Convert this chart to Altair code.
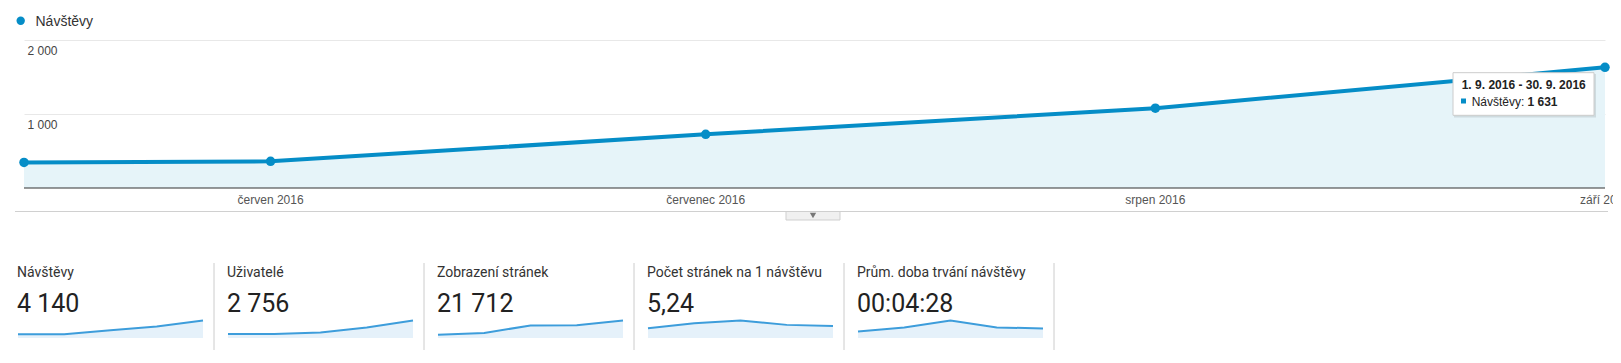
import altair as alt
import pandas as pd

# ---------------- data ----------------
months = ["2016-05-15", "2016-06-01", "2016-07-01", "2016-08-01", "2016-09-01"]
month_labels = ["", "červen 2016", "červenec 2016", "srpen 2016", "září 2016"]
visits = [345, 360, 725, 1079, 1631]

metric_names = ["Návštěvy", "Uživatelé", "Zobrazení stránek",
                "Počet stránek na 1 návštěvu", "Prům. doba trvání návštěvy"]
metric_totals = ["4 140", "2 756", "21 712", "5,24", "00:04:28"]

spark_visits = [345, 360, 725, 1079, 1631]
spark_users = [260, 262, 368, 694, 1150]
spark_pageviews = [1400, 2100, 5330, 5460, 7422]
spark_pages_per_visit = [4.0, 6.1, 7.2, 5.4, 4.9]
spark_duration_s = [160, 256, 424, 256, 232]
spark_series = [spark_visits, spark_users, spark_pageviews,
                spark_pages_per_visit, spark_duration_s]

tooltip_title = ["1. 9. 2016 - 30. 9. 2016"]
tooltip_series = ["Návštěvy:"]
tooltip_value = ["1 631"]

# ---------------- styling ----------------
W, H = 1605, 343
BLUE = "#058dc7"
FILL = "#e6f4f9"
SPARK = "#3d9ddb"
SPARK_FILL = "#e5f1fa"

main_df = pd.DataFrame({"date": months, "label": month_labels, "visits": visits})
legend_df = pd.DataFrame({"name": [metric_names[0]]})
panel_df = pd.DataFrame({"idx": list(range(len(metric_names))),
                         "name": metric_names, "total": metric_totals})
tip_df = pd.DataFrame({"title": tooltip_title, "series": tooltip_series,
                       "value": tooltip_value})

x_range = [16, 1597]
x_main = alt.X("date:T", scale=alt.Scale(range=x_range), axis=None)
y_scale = alt.Scale(domain=[0, 2000], range=[180, 32])
y_main = alt.Y("visits:Q", scale=y_scale, axis=None)

area = alt.Chart(main_df).mark_area(color=FILL, opacity=1).encode(
    x=x_main,
    y=alt.Y("visits:Q", scale=y_scale, axis=alt.Axis(
        values=[1000, 2000], grid=True, gridColor="#e8e8e8", domain=False,
        ticks=False, tickSize=0, labelAlign="left", labelPadding=-19,
        labelBaseline="alphabetic", labelOffset=14, labelFont="Arial",
        labelFontSize=12, labelColor="#444", title=None,
        labelExpr="replace(format(datum.value, ','), ',', ' ')")),
)

baseline = alt.Chart(main_df).mark_rule(color="#333", strokeWidth=1).encode(
    x=alt.X("min(date):T", scale=alt.Scale(range=x_range), axis=None),
    x2="max(date):T",
    y=alt.Y(datum=0, scale=y_scale, axis=None),
)

line = alt.Chart(main_df).mark_line(color=BLUE, strokeWidth=4).encode(x=x_main, y=y_main)
pts = alt.Chart(main_df).mark_circle(color=BLUE, size=90, opacity=1).encode(x=x_main, y=y_main)

x_labels = alt.Chart(main_df).mark_text(
    font="Arial", fontSize=12, color="#555", align="center", baseline="alphabetic", clip=True
).encode(x=x_main, y=alt.value(196), text="label:N")

# legend
leg_dot = alt.Chart(legend_df).mark_circle(color=BLUE, size=70, opacity=1).encode(
    x=alt.value(12.7), y=alt.value(12.7))
leg_txt = alt.Chart(legend_df).mark_text(
    font="Arial", fontSize=14, color="#333", align="left", baseline="alphabetic"
).encode(x=alt.value(27.5), y=alt.value(18.3), text="name:N")

# separator + tab
sep = alt.Chart(legend_df).mark_rule(color="#d0d0d0", strokeWidth=1).encode(
    x=alt.value(7), x2=alt.value(1600), y=alt.value(203.5))
tab = alt.Chart(legend_df).mark_rect(fill="#f0f0f0", stroke="#cfcfcf", strokeWidth=1).encode(
    x=alt.value(778), x2=alt.value(832), y=alt.value(203.5), y2=alt.value(212))
tab_tri = alt.Chart(legend_df).mark_point(shape="triangle-down", filled=True, color="#777",
                                          size=40, opacity=1).encode(
    x=alt.value(805), y=alt.value(207.5))

# tooltip
tip_shadow = alt.Chart(tip_df).mark_rect(fill="#000", opacity=0.10).encode(
    x=alt.value(1446), x2=alt.value(1588), y=alt.value(66), y2=alt.value(109.5))
tip_box = alt.Chart(tip_df).mark_rect(fill="white", stroke="#cccccc", strokeWidth=1).encode(
    x=alt.value(1445), x2=alt.value(1586), y=alt.value(64.7), y2=alt.value(107.3))
tip_title = alt.Chart(tip_df).mark_text(
    font="Arial", fontSize=12, fontWeight="bold", color="#222", align="left", baseline="alphabetic"
).encode(x=alt.value(1453.7), y=alt.value(81.3), text="title:N")
tip_sq = alt.Chart(tip_df).mark_square(color=BLUE, size=25, opacity=1).encode(
    x=alt.value(1455.5), y=alt.value(93))
tip_series = alt.Chart(tip_df).mark_text(
    font="Arial", fontSize=12, color="#222", align="left", baseline="alphabetic"
).encode(x=alt.value(1463.7), y=alt.value(97.7), text="series:N")
tip_val = alt.Chart(tip_df).mark_text(
    font="Arial", fontSize=12, fontWeight="bold", color="#222", align="left", baseline="alphabetic"
).encode(x=alt.value(1519.5), y=alt.value(97.7), text="value:N")

# scorecards
px = alt.X("idx:Q", scale=alt.Scale(domain=[0, 4], range=[9, 849], nice=False), axis=None)
names = alt.Chart(panel_df).mark_text(
    font="Roboto", fontSize=14, color="#333", align="left", baseline="alphabetic"
).encode(x=px, y=alt.value(269), text="name:N")
totals = alt.Chart(panel_df).mark_text(
    font="Roboto", fontSize=25, color="#222", align="left", baseline="alphabetic"
).encode(x=px, y=alt.value(303.7), text="total:N")
dividers = alt.Chart(panel_df).mark_rule(color="#cccccc", strokeWidth=1).encode(
    x=alt.X("idx:Q", scale=alt.Scale(domain=[0, 4], range=[206, 1046], nice=False), axis=None),
    y=alt.value(255), y2=alt.value(342))

spark_layers = []
for i, vals in enumerate(spark_series):
    sdf = pd.DataFrame({"k": list(range(len(vals))), "v": vals})
    sx = alt.X("k:Q", scale=alt.Scale(domain=[0, 4], range=[10 + 210 * i, 195 + 210 * i], nice=False),
               axis=None)
    sy = alt.Y("v:Q", scale=alt.Scale(zero=True, nice=False, range=[330, 312.5]), axis=None)
    spark_layers.append(alt.Chart(sdf).mark_area(color=SPARK_FILL, opacity=1).encode(x=sx, y=sy))
    spark_layers.append(alt.Chart(sdf).mark_line(color=SPARK, strokeWidth=2).encode(x=sx, y=sy))

layers = [area, baseline, line, pts, x_labels, leg_dot, leg_txt, sep, tab, tab_tri,
          tip_shadow, tip_box, tip_title, tip_sq, tip_series, tip_val,
          names, totals, dividers] + spark_layers

chart = alt.layer(*layers).resolve_scale(x="independent", y="independent").properties(
    width=W, height=H, padding=0, autosize=alt.AutoSizeParams(type="none")
).configure_view(strokeWidth=0)

chart.save("out.html", embed_options={"renderer": "svg", "actions": False})
